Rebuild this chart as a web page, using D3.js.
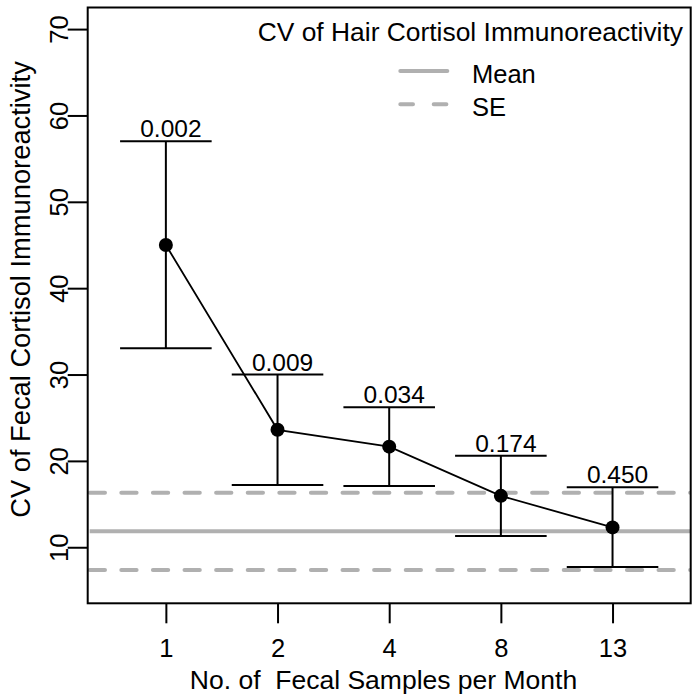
<!DOCTYPE html>
<html>
<head>
<meta charset="utf-8">
<script src="https://cdn.jsdelivr.net/npm/d3@7"></script>
<style>
  html, body { margin: 0; padding: 0; background: #ffffff; }
  svg { display: block; }
  text { font-family: "Liberation Sans", Arial, Helvetica, sans-serif; fill: #000; }
</style>
</head>
<body>
<svg id="chart" width="700" height="700"></svg>
<script>
// ---------- data ----------
const categories = ["1", "2", "4", "8", "13"];
const meanCV = [45.0, 23.6, 21.65, 15.95, 12.3];
const upperCV = [57.0, 30.0, 26.2, 20.6, 16.95];
const lowerCV = [33.05, 17.2, 17.1, 11.3, 7.7];
const pLabels = ["0.002", "0.009", "0.034", "0.174", "0.450"];
const hairMean = [11.85];
const hairSE = [4.47];
const yTicks = [10, 20, 30, 40, 50, 60, 70];
const legendTitle = "CV of Hair Cortisol Immunoreactivity";
const legendItems = ["Mean", "SE"];
const xTitle = "No. of  Fecal Samples per Month";
const yTitle = "CV of Fecal Cortisol Immunoreactivity";

// ---------- layout ----------
const svg = d3.select("#chart");
const plot = { left: 87.7, right: 690.7, top: 7.5, bottom: 603.3 };
const grayCol = "#b0b0b0";

const idx = categories.map((d, i) => i + 1);
const x = d3.scaleLinear().domain([0.3, 5.7]).range([plot.left, plot.right]);
const y = d3.scaleLinear().domain([3.51, 72.5]).range([plot.bottom, plot.top]);

svg.append("defs").append("clipPath").attr("id", "plotclip")
  .append("rect")
  .attr("x", plot.left).attr("y", plot.top)
  .attr("width", plot.right - plot.left).attr("height", plot.bottom - plot.top);

// ---------- hair reference lines ----------
const refG = svg.append("g").attr("clip-path", "url(#plotclip)");
const refLines = [
  { v: hairMean[0], dash: null },
  { v: hairMean[0] + hairSE[0], dash: "15.3,16.3" },
  { v: hairMean[0] - hairSE[0], dash: "15.3,16.3" }
];
refG.selectAll("line").data(refLines).join("line")
  .attr("x1", plot.left + 2).attr("x2", plot.right)
  .attr("y1", d => y(d.v)).attr("y2", d => y(d.v))
  .attr("stroke", grayCol).attr("stroke-width", 4)
  .attr("stroke-linecap", d => d.dash ? "round" : "butt")
  .attr("stroke-dasharray", d => d.dash);

// ---------- error bars ----------
const capHalf = 0.41;
const eb = svg.append("g");
const data = categories.map((c, i) => ({
  i: idx[i], mean: meanCV[i], lo: lowerCV[i], hi: upperCV[i], p: pLabels[i]
}));
eb.selectAll("line.v").data(data).join("line").attr("class", "v")
  .attr("x1", d => x(d.i)).attr("x2", d => x(d.i))
  .attr("y1", d => y(d.lo)).attr("y2", d => y(d.hi))
  .attr("stroke", "#000").attr("stroke-width", 2);
eb.selectAll("line.top").data(data).join("line").attr("class", "top")
  .attr("x1", d => x(d.i - capHalf)).attr("x2", d => x(d.i + capHalf))
  .attr("y1", d => y(d.hi)).attr("y2", d => y(d.hi))
  .attr("stroke", "#000").attr("stroke-width", 2);
eb.selectAll("line.bot").data(data).join("line").attr("class", "bot")
  .attr("x1", d => x(d.i - capHalf)).attr("x2", d => x(d.i + capHalf))
  .attr("y1", d => y(d.lo)).attr("y2", d => y(d.lo))
  .attr("stroke", "#000").attr("stroke-width", 2);

// ---------- mean line + points ----------
const line = d3.line().x(d => x(d.i)).y(d => y(d.mean));
svg.append("path").datum(data)
  .attr("d", line).attr("fill", "none")
  .attr("stroke", "#000").attr("stroke-width", 1.8);
svg.append("g").selectAll("circle").data(data).join("circle")
  .attr("cx", d => x(d.i)).attr("cy", d => y(d.mean)).attr("r", 7)
  .attr("fill", "#000");

// ---------- p labels ----------
svg.append("g").selectAll("text").data(data).join("text")
  .attr("x", d => x(d.i) + 5).attr("y", d => y(d.hi) - 4)
  .attr("text-anchor", "middle")
  .style("font-size", "24.5px")
  .text(d => d.p);

// ---------- axes ----------
const xAxis = d3.axisBottom(x).tickValues(idx)
  .tickFormat((d, i) => categories[i]).tickSize(20).tickPadding(10);
const gx = svg.append("g").attr("transform", `translate(0,${plot.bottom})`).call(xAxis);
gx.select(".domain").remove();
gx.selectAll(".tick line").attr("stroke", "#000").attr("stroke-width", 2);
gx.selectAll(".tick text")
  .attr("dy", null).attr("y", 53.4)
  .style("font-size", "25.5px").style("font-family", '"Liberation Sans", Arial, sans-serif');

const yAxis = d3.axisLeft(y).tickValues(yTicks).tickSize(20);
const gy = svg.append("g").attr("transform", `translate(${plot.left},0)`).call(yAxis);
gy.select(".domain").remove();
gy.selectAll(".tick line").attr("stroke", "#000").attr("stroke-width", 2);
gy.selectAll(".tick text")
  .attr("x", null).attr("dy", null)
  .attr("transform", "translate(-19.5,0) rotate(-90)")
  .attr("text-anchor", "middle")
  .style("font-size", "25.5px").style("font-family", '"Liberation Sans", Arial, sans-serif');

// box
svg.append("rect")
  .attr("x", plot.left).attr("y", plot.top)
  .attr("width", plot.right - plot.left).attr("height", plot.bottom - plot.top)
  .attr("fill", "none").attr("stroke", "#000").attr("stroke-width", 2);

// axis titles
svg.append("text")
  .attr("x", 383.5).attr("y", 689.3)
  .attr("text-anchor", "middle")
  .style("font-size", "26.5px")
  .style("white-space", "pre")
  .text(xTitle);
svg.append("text")
  .attr("transform", "translate(29.5,289.5) rotate(-90)")
  .attr("text-anchor", "middle")
  .style("font-size", "27.3px")
  .text(yTitle);

// ---------- legend ----------
const lg = svg.append("g");
lg.append("text")
  .attr("x", 683).attr("y", 40.7).attr("text-anchor", "end")
  .style("font-size", "26.4px")
  .text(legendTitle);
const legData = [
  { label: legendItems[0], dash: null, y: 71 },
  { label: legendItems[1], dash: "12.7,20.7", y: 104.3 }
];
lg.selectAll("line").data(legData).join("line")
  .attr("x1", 400.3).attr("x2", 447.3)
  .attr("y1", d => d.y).attr("y2", d => d.y)
  .attr("stroke", grayCol).attr("stroke-width", 4)
  .attr("stroke-linecap", "round")
  .attr("stroke-dasharray", d => d.dash);
lg.selectAll("text.item").data(legData).join("text").attr("class", "item")
  .attr("x", 472).attr("y", d => d.y + 11.5)
  .style("font-size", "25.5px")
  .text(d => d.label);
</script>
</body>
</html>
